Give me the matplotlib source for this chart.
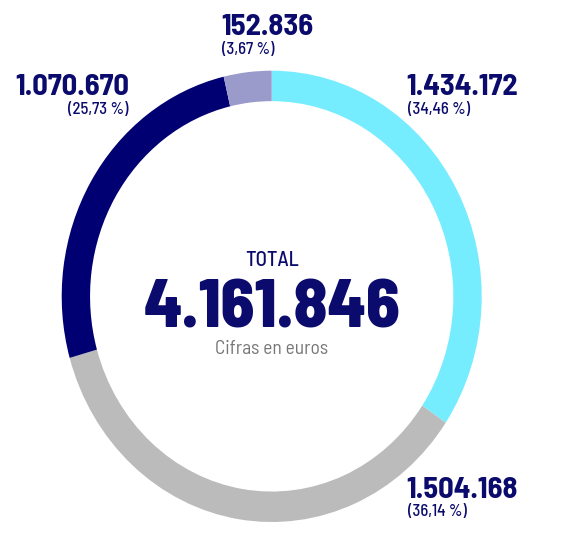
import matplotlib
matplotlib.use("Agg")
import matplotlib.pyplot as plt

# data
labels = ['1.434.172', '1.504.168', '1.070.670', '152.836']
values = [1434172, 1504168, 1070670, 152836]
shares = ['(34,46 %)', '(36,14 %)', '(25,73 %)', '(3,67 %)']
colors = ['#76ecff', '#bbbbbb', '#000073', '#9b9bcb']
total_label = '4.161.846'

navy = '#0b0b6e'
fonts = ['Barlow Semi Condensed', 'DejaVu Sans']

W, H = 578, 534
fig = plt.figure(figsize=(W / 100, H / 100), dpi=100)

# ring is a bit taller than it is wide in the reference
ax = fig.add_axes([61.7 / W, 1 - 522 / H, 420 / W, 451.3 / H])
ax.pie(values, colors=colors, startangle=90, counterclock=False,
       wedgeprops=dict(width=0.135, edgecolor='none', linewidth=0))
ax.set_aspect('auto')
ax.set_xlim(-1, 1)
ax.set_ylim(-1, 1)
ax.axis('off')


def px(x, y):
    return x / W, 1 - y / H


# value labels: (x, baseline y of number, alignment)
spots = [(406, 95, 'left'), (406, 498, 'left'), (129, 95, 'right'), (221, 35, 'left')]
for (x, y, ha), lab, sh in zip(spots, labels, shares):
    fig.text(*px(x, y), lab, ha=ha, va='baseline', fontsize=22,
             fontweight='bold', color=navy, family=fonts)
    xs = x + 1.5 if ha == 'left' else x
    fig.text(*px(xs, y + 18.5), sh, ha=ha, va='baseline', fontsize=12,
             fontweight=500, color=navy, family=fonts)

# centre
fig.text(*px(272, 266), 'TOTAL', ha='center', va='baseline', fontsize=15,
         fontweight=500, color=navy, family=fonts)
fig.text(*px(272, 327), total_label, ha='center', va='baseline', fontsize=49,
         fontweight=800, color=navy, family=fonts)
fig.text(*px(272, 354), 'Cifras en euros', ha='center', va='baseline', fontsize=14,
         color='#777777', family=fonts)

fig.savefig('out.png', dpi=100)
